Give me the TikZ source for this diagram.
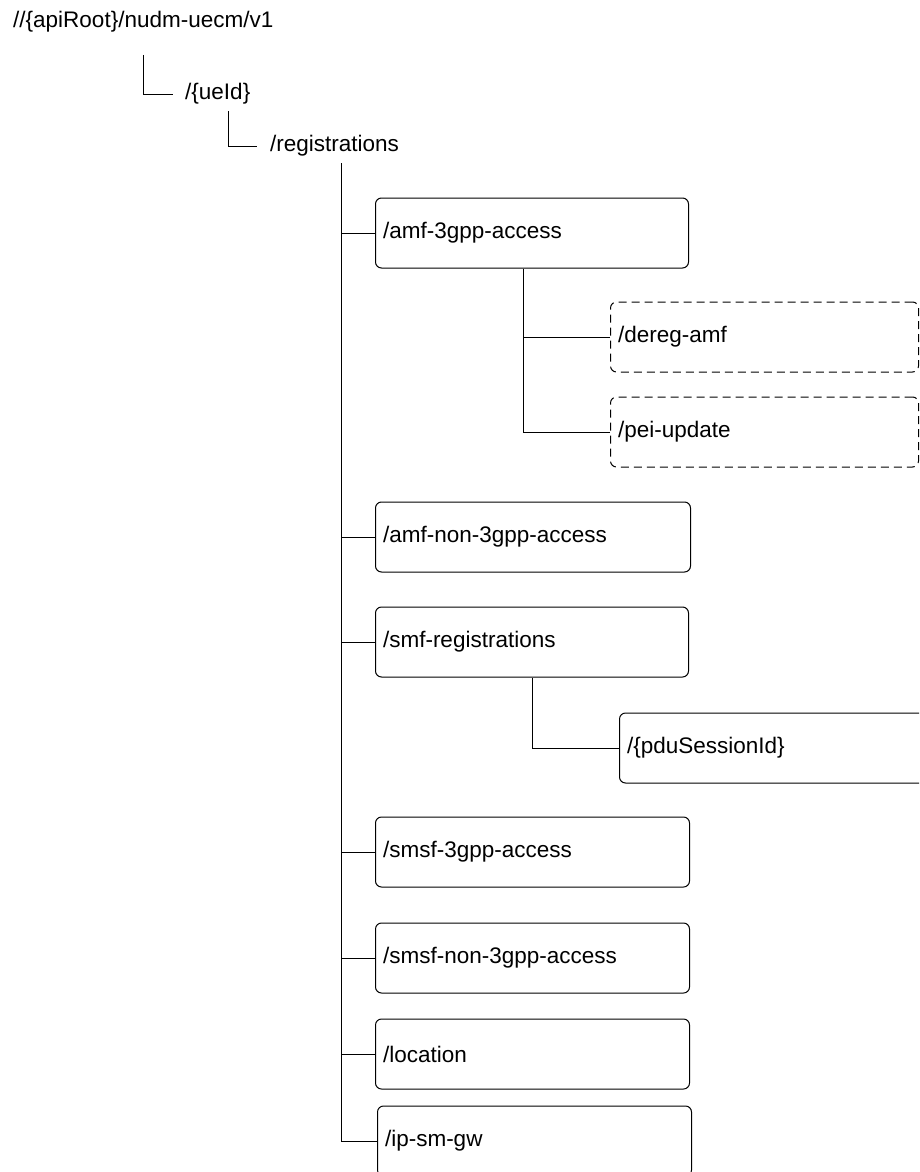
\documentclass[tikz,border=0pt]{standalone}
\usepackage{fontspec}
\setmainfont{Liberation Sans}
\usepackage{tikz}
\usetikzlibrary{positioning}
\newcommand{\pathfont}{\fontsize{22.5pt}{27pt}\selectfont}
\tikzset{
  resbox/.style={draw, rounded corners=6pt, line width=1pt, anchor=west,
              minimum height=70pt, inner xsep=7.5pt, inner ysep=0pt,
              text width=#1, align=left, font=\pathfont},
  resbox/.default=299pt,
  optbox/.style={resbox=#1, dash pattern=on 8pt off 5pt},
  optbox/.default=293pt,
  pathtxt/.style={inner sep=0pt, anchor=west, font=\pathfont},
  link/.style={line width=1pt},
}
\begin{document}
\begin{tikzpicture}[x=1pt, y=-1pt]
        \useasboundingbox (0,0) rectangle (919,1172);
        \clip (0,0) rectangle (919,1172);
        \node[pathtxt] (root) at (13,22)  {//\{apiRoot\}/nudm-uecm/v1};
        \node[pathtxt] (ueid) at (185,94) {/\{ueId\}};
        \node[pathtxt] (regs) at (270,146) {/registrations};
        \coordinate (t1) at (143,55);
        \coordinate (t2) at (228,111);
        \coordinate (t3) at (341,163);
        \draw[link] (t1) |- ([xshift=-12pt]ueid.west);
        \draw[link] (t2) |- ([xshift=-13pt]regs.west);
        \node[resbox=298pt] (amf3)  at (375,233)  {/amf-3gpp-access};
        \node[optbox]       (dereg) at (610,337)  {/dereg-amf};
        \node[optbox]       (pei)   at (610,432)  {/pei-update};
        \node[resbox=300pt] (amfn)  at (375,537)  {/amf-non-3gpp-access};
        \node[resbox=298pt] (smf)   at (375,642)  {/smf-registrations};
        \node[resbox=306pt] (pdu)   at (619,748)  {/\{pduSessionId\}};
        \node[resbox]       (smsf3) at (375,852)  {/smsf-3gpp-access};
        \node[resbox]       (smsfn) at (375,958)  {/smsf-non-3gpp-access};
        \node[resbox]       (loc)   at (375,1054) {/location};
        \node[resbox]       (ipsm)  at (377,1141) {/ip-sm-gw};
        \draw[link] (t3) |- (ipsm.west);
        \foreach \b in {amf3,amfn,smf,smsf3,smsfn,loc}
          \draw[link] (t3 |- \b.west) -- (\b.west);
        \draw[link] ([xshift=-8.5pt]amf3.south) |- (dereg.west);
        \draw[link] ([xshift=-8.5pt]amf3.south) |- (pei.west);
        \draw[link] (smf.south) |- (pdu.west);
      \end{tikzpicture}
\end{document}
